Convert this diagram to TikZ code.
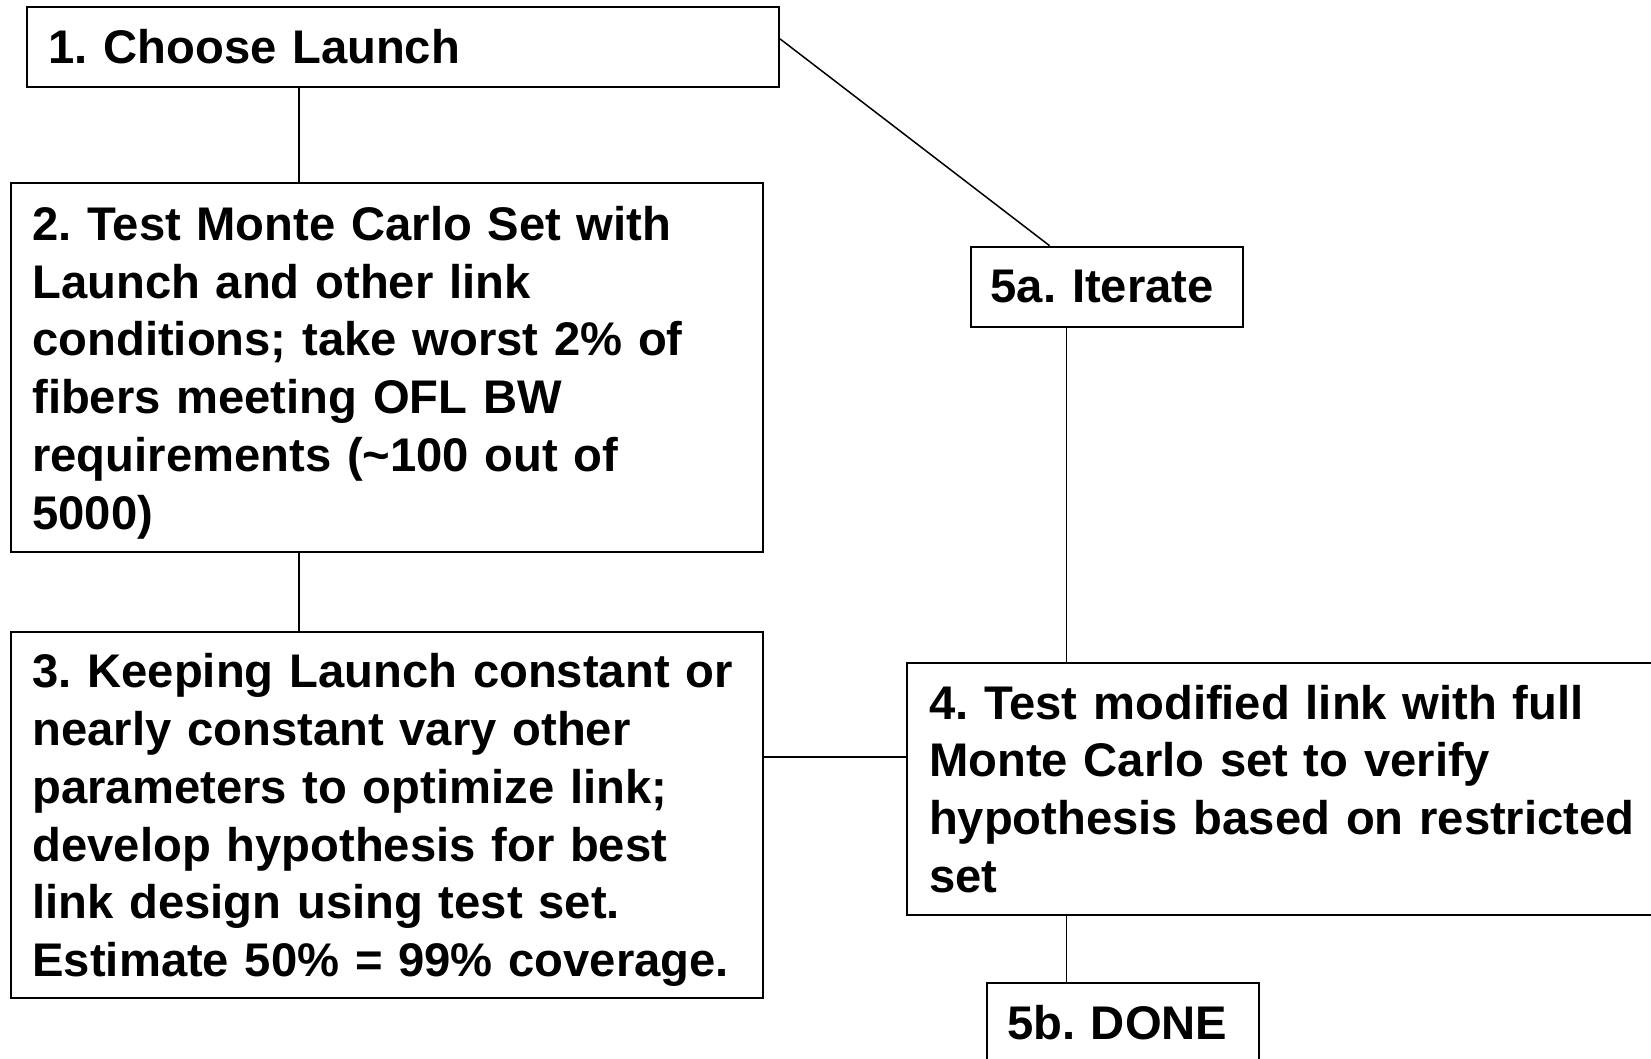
\documentclass[tikz,border=0pt]{standalone}
\usepackage{fontspec}
\setmainfont{Liberation Sans}
\usetikzlibrary{calc}
\hyphenpenalty=10000
\exhyphenpenalty=10000
\frenchspacing
\newcommand{\toplift}{\rule{0pt}{45pt}}
\begin{document}
\begin{tikzpicture}[x=1pt,y=-1pt,
  box/.style={draw, line width=2pt, rectangle, inner sep=0pt, align=left,
    font=\fontsize{47.2}{57.8}\selectfont\bfseries\frenchspacing},
  link/.style={line width=1.5pt}]
\clip (0,0) rectangle (1651,1058);
\fill[white] (0,0) rectangle (1651,1058);
% boxes
\node[box, minimum width=752.3pt, minimum height=79.4pt, text width=709pt] (b1) at (402.85,47) {1. Choose Launch};
\node[box, minimum width=752pt, minimum height=368.8pt, text width=709.4pt] (b2) at (387,367.1)
  {\toplift 2. Test Monte Carlo Set with\\Launch and other link\\conditions; take worst 2\% of\\fibers meeting OFL BW\\requirements (\textasciitilde100 out of\\5000)};
\node[box, minimum width=752pt, minimum height=366.5pt, text width=709pt] (b3) at (387,814.75)
  {\toplift 3. Keeping Launch constant or\\nearly constant vary other\\parameters to optimize link;\\develop hypothesis for best\\link design using test set.\\Estimate 50\% = 99\% coverage.};
\node[box, minimum width=272pt, minimum height=80pt, text width=232pt] (b5a) at (1106.7,286.7) {5a. Iterate};
\node[box, minimum width=820pt, minimum height=251.2pt, text width=776pt] (b4) at (1317,788.9)
  {4. Test modified link with full\\Monte Carlo set to verify\\hypothesis based on restricted\\set};
\node[box, minimum width=272pt, minimum height=80pt, text width=232pt] (b5b) at (1123,1023) {5b. DONE};
% connector positions
\coordinate (x12) at (299,0);
\coordinate (xa) at (1066.7,0);
\coordinate (y34) at (0,757);
% connectors
\draw[link] (b1.south -| x12) -- (b2.north -| x12);
\draw[link] (b2.south -| x12) -- (b3.north -| x12);
\draw[link] ($(b1.north east)!0.4!(b1.south east)$) -- ($(b5a.north west)!0.2915!(b5a.north east)$);
\draw[link] (b5a.south -| xa) -- (b4.north -| xa);
\draw[link] (b3.east |- y34) -- (b4.west |- y34);
\draw[link] (b4.south -| xa) -- (b5b.north -| xa);
\end{tikzpicture}
\end{document}
